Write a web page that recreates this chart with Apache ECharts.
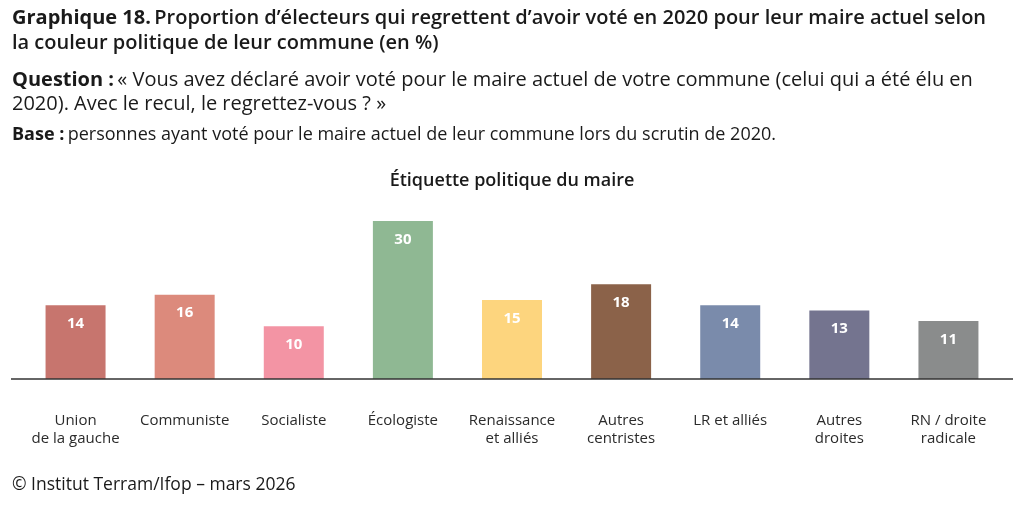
<!DOCTYPE html>
<html><head><meta charset="utf-8">
<script src="https://cdn.jsdelivr.net/npm/echarts@6/dist/echarts.min.js"></script>
<style>html,body{margin:0;padding:0;background:#fff}#c{width:1024px;height:507px}</style>
</head><body><div id="c"></div>
<script>
const categories = ["Union\nde la gauche","Communiste","Socialiste","Écologiste","Renaissance\net alliés","Autres\ncentristes","LR et alliés","Autres\ndroites","RN / droite\nradicale"];
const values = [14,16,10,30,15,18,14,13,11];
const colors = ["#c7756e","#dc8a7c","#f394a4","#8fb893","#fdd57e","#8b6249","#7a8bab","#74748f","#8a8c8c"];

const F = "Open Sans";
const chart = echarts.init(document.getElementById('c'));
chart.setOption({
  animation:false,
  textStyle:{fontFamily:F},
  grid:{left:21,right:21,top:221,bottom:128},
  xAxis:{type:'category',data:categories,
    axisLine:{show:false},axisTick:{show:false},
    axisLabel:{color:'#2b2b2b',fontSize:15,margin:33,lineHeight:18,fontFamily:F,interval:0}},
  yAxis:{type:'value',min:0,max:30,show:false,splitLine:{show:false}},
  series:[{type:'bar',barWidth:60,
    data:values.map((v,i)=>({value:v,itemStyle:{color:colors[i]}})),
    label:{show:true,position:'insideTop',distance:11,color:'#fff',fontWeight:'bold',fontSize:15,fontFamily:F}}],
  graphic:[
    {type:'line',shape:{x1:11,y1:379,x2:1013,y2:379},style:{stroke:'#333',lineWidth:1.5},z:10},
    {type:'text',left:12,top:8,style:{
      text:'{b|Graphique 18.} {s|Proportion d’électeurs qui regrettent d’avoir voté en 2020 pour leur maire actuel selon}\n{s|la couleur politique de leur commune (en %)}',
      rich:{b:{fontFamily:F,fontSize:20,fontWeight:'bold',fill:'#1a1a1a',lineHeight:25},
            s:{fontFamily:F,fontSize:20,fontWeight:600,fill:'#1a1a1a',lineHeight:25}}}},
    {type:'text',left:12,top:70,style:{
      text:'{b|Question :} {s|« Vous avez déclaré avoir voté pour le maire actuel de votre commune (celui qui a été élu en}\n{s|2020). Avec le recul, le regrettez-vous ? »}',
      rich:{b:{fontFamily:F,fontSize:20,fontWeight:'bold',fill:'#1a1a1a',lineHeight:24},
            s:{fontFamily:F,fontSize:20,fill:'#1a1a1a',lineHeight:24}}}},
    {type:'text',left:12,top:126,style:{
      text:'{b|Base :} {s|personnes ayant voté pour le maire actuel de leur commune lors du scrutin de 2020.}',
      rich:{b:{fontFamily:F,fontSize:18,fontWeight:'bold',fill:'#1a1a1a',lineHeight:20},
            s:{fontFamily:F,fontSize:18,fill:'#1a1a1a',lineHeight:20}}}},
    {type:'text',x:512,y:181,style:{text:'Étiquette politique du maire',fontFamily:F,fontSize:18,fontWeight:600,fill:'#1a1a1a',textAlign:'center',textVerticalAlign:'middle'}},
    {type:'text',left:12,top:476,style:{text:'© Institut Terram/Ifop – mars 2026',fontFamily:F,fontSize:17.5,fill:'#1a1a1a'}}
  ]
});
</script></body></html>
